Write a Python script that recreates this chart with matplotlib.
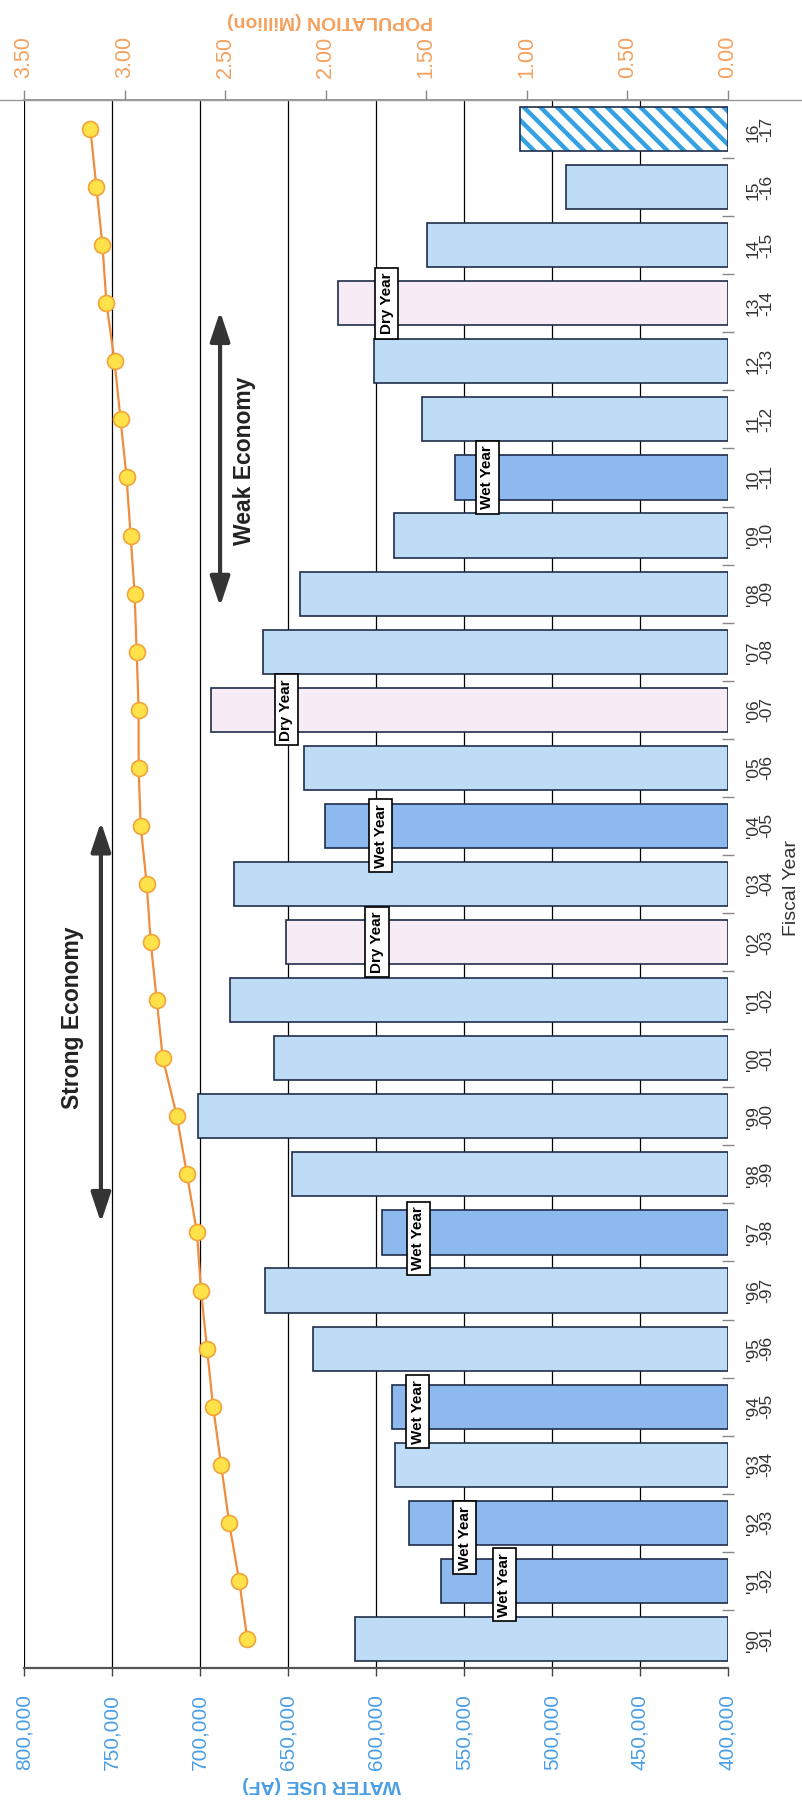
import matplotlib
matplotlib.use('Agg')
import matplotlib.pyplot as plt
import numpy as np
from matplotlib.lines import Line2D

plt.rcParams['font.family'] = ['Liberation Sans', 'DejaVu Sans']
plt.rcParams['hatch.linewidth'] = 3.2

# ---------------- data ----------------
fiscal_years = ["'90\n-91", "'91\n-92", "'92\n-93", "'93\n-94", "'94\n-95", "'95\n-96",
                "'96\n-97", "'97\n-98", "'98\n-99", "'99\n-00", "'00\n-01", "'01\n-02",
                "'02\n-03", "'03\n-04", "'04\n-05", "'05\n-06", "'06\n-07", "'07\n-08",
                "'08\n-09", "'09\n-10", "10\n-11", "11\n-12", "12\n-13", "13\n-14",
                "14\n-15", "15\n-16", "16\n-17"]
water_use = [612000, 563000, 581000, 589000, 591000, 636000, 663000, 596500, 647500,
             701000, 658000, 683000, 651000, 680500, 629000, 641000, 694000, 664000,
             643000, 590000, 555000, 574000, 601000, 621500, 571000, 492000, 518000]
population = [2.39, 2.43, 2.48, 2.52, 2.56, 2.59, 2.62, 2.64, 2.69, 2.74, 2.81, 2.84,
              2.87, 2.89, 2.92, 2.93, 2.93, 2.94, 2.95, 2.97, 2.99, 3.02, 3.05, 3.09,
              3.11, 3.14, 3.17]
year_type = ['normal', 'wet', 'wet', 'normal', 'wet', 'normal', 'normal', 'wet', 'normal',
             'normal', 'normal', 'normal', 'dry', 'normal', 'wet', 'normal', 'dry', 'normal',
             'normal', 'normal', 'wet', 'normal', 'normal', 'dry', 'normal', 'normal', 'projected']
water_ticks = [400000, 450000, 500000, 550000, 600000, 650000, 700000, 750000, 800000]
pop_ticks = [0.0, 0.5, 1.0, 1.5, 2.0, 2.5, 3.0, 3.5]

# annotation boxes (year index, text, x value, vertical offset in bar units)
note_index = [1, 2, 4, 7, 12, 14, 16, 20, 23]
note_text = ['Wet Year', 'Wet Year', 'Wet Year', 'Wet Year', 'Dry Year', 'Wet Year',
             'Dry Year', 'Wet Year', 'Dry Year']
note_x = [527000, 549600, 576400, 576000, 599400, 597400, 651000, 536700, 594000]
note_dy = [-0.07, -0.26, -0.09, -0.10, 0.0, -0.17, 0.0, 0.0, 0.0]

# ---------------- style ----------------
type_color = {'normal': '#bfdcf6', 'wet': '#8db9ee', 'dry': '#f7ebf6', 'projected': 'white'}
edge_col = '#1f2d4a'
blue_txt = '#4b9ee4'
orange_txt = '#f3a15f'

W, H = 802, 1804
fig = plt.figure(figsize=(W / 100, H / 100), dpi=100)
L, R, T, B = 24, 728, 100, 1668
ax = fig.add_axes([L / W, (H - B) / H, (R - L) / W, (B - T) / H])

idx = np.arange(len(fiscal_years))
base = water_ticks[0]
vals = np.array(water_use)

ax.set_xlim(water_ticks[-1], water_ticks[0])
ax.set_ylim(-0.5, len(fiscal_years) - 0.5)

# gridlines (not at the 400,000 base)
for t in water_ticks[1:]:
    ax.axvline(t, color='black', lw=0.9, zorder=0.5)

colors = [type_color[t] for t in year_type]
is_proj = np.array([t == 'projected' for t in year_type])
ax.barh(idx[~is_proj], vals[~is_proj] - base, left=base, height=0.76,
        color=[c for c, p in zip(colors, is_proj) if not p],
        edgecolor=edge_col, linewidth=1.2, zorder=2)
ax.barh(idx[is_proj], vals[is_proj] - base, left=base, height=0.76,
        color='white', edgecolor='#35a1e3', hatch='\\\\', linewidth=0, zorder=2)
ax.barh(idx[is_proj], vals[is_proj] - base, left=base, height=0.76,
        fill=False, edgecolor=edge_col, linewidth=1.2, zorder=2.1)

# axes ticks
ax.set_xticks(water_ticks)
ax.set_xticklabels([f'{v:,}' for v in water_ticks])
ax.tick_params(axis='x', which='major', direction='out', length=6, width=1,
               color='#444444', pad=13, labelsize=15, labelcolor=blue_txt,
               labelrotation=90)

ax.yaxis.tick_right()
ax.set_yticks(idx)
ax.set_yticklabels(fiscal_years, rotation=90, va='center', ha='left', linespacing=0.85)
ax.set_yticks(idx[:-1] + 0.5, minor=True)
ax.tick_params(axis='y', which='major', length=0, pad=13, labelsize=12.5, labelcolor='#333333')
ax.tick_params(axis='y', which='minor', length=8, direction='inout', width=1, color='#888888')

ax.spines['left'].set_visible(False)
ax.spines['right'].set_visible(False)
ax.spines['top'].set_visible(False)
ax.spines['bottom'].set_color('#555555')
ax.spines['bottom'].set_linewidth(1.6)

# notes
for i, txt, xv, dy in zip(note_index, note_text, note_x, note_dy):
    ax.text(xv, i + dy, txt, rotation=90, ha='center', va='center', fontsize=11,
            fontweight='bold', color='black', zorder=5,
            bbox=dict(boxstyle='square,pad=0.3', fc='white', ec='black', lw=1.2))

# economy arrows
arrow_style = '<|-|>,head_length=0.9,head_width=0.3'
ax.annotate('', xy=(756300, 7.17), xytext=(756300, 14.07),
            arrowprops=dict(arrowstyle=arrow_style, lw=3, color='#353535', mutation_scale=20,
                            shrinkA=0, shrinkB=0), zorder=4)
ax.text(772600, 10.69, 'Strong Economy', rotation=90, ha='center', va='center',
        fontsize=16.5, fontweight='bold', color='#222222')
ax.annotate('', xy=(688600, 17.78), xytext=(688600, 22.86),
            arrowprops=dict(arrowstyle=arrow_style, lw=3, color='#353535', mutation_scale=20,
                            shrinkA=0, shrinkB=0), zorder=4)
ax.text(674600, 20.28, 'Weak Economy', rotation=90, ha='center', va='center',
        fontsize=16.5, fontweight='bold', color='#222222')

# population axis
ax2 = ax.twiny()
ax2.set_xlim(pop_ticks[-1], pop_ticks[0])
ax2.plot(population, idx, color='#f08c3c', lw=1.6, marker='o', ms=11.5,
         mfc='#ffe24a', mec='#f2a33a', mew=1.2, zorder=3)
ax2.set_xticks(pop_ticks)
ax2.set_xticklabels([f'{v:.2f}' for v in pop_ticks])
ax2.tick_params(axis='x', direction='out', length=7, width=1, color='#888888', pad=9,
                labelsize=15.5, labelcolor=orange_txt, labelrotation=90)
for s in ['left', 'right', 'bottom']:
    ax2.spines[s].set_visible(False)
ax2.spines['top'].set_color('#888888')
ax2.spines['top'].set_linewidth(1.2)

# top line running across the page
fig.add_artist(Line2D([0, 1], [(H - T) / H, (H - T) / H], transform=fig.transFigure,
                      color='#999999', lw=1.0))

# axis titles
fig.text(322 / W, 1 - 1784 / H, 'WATER USE (AF)', rotation=180, ha='center', va='center',
         fontsize=14, fontweight='bold', color=blue_txt)
fig.text(330 / W, 1 - 20 / H, 'POPULATION (Million)', rotation=180, ha='center', va='center',
         fontsize=14, fontweight='bold', color=orange_txt)
fig.text(791 / W, 1 - 888 / H, 'Fiscal Year', rotation=90, ha='center', va='center',
         fontsize=14, color='#333333')

fig.savefig('out.png', dpi=100)
